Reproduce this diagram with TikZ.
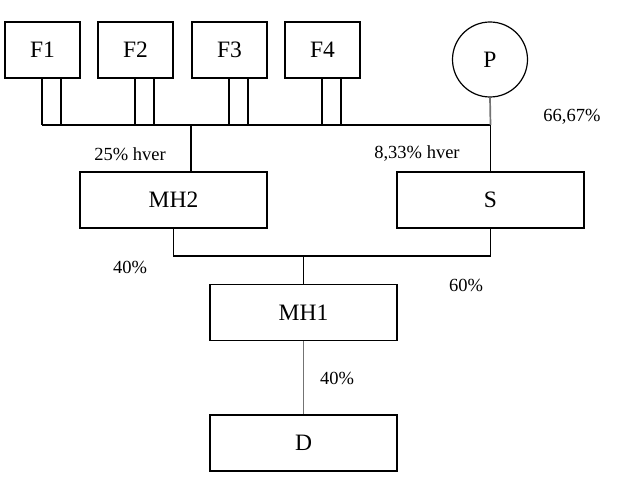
\documentclass[tikz,border=0pt]{standalone}
\usepackage{fontspec}
\setmainfont{Liberation Serif}
\begin{document}
\begin{tikzpicture}[x=1pt,y=-1pt,
  box/.style={draw,line width=1.4pt,minimum width=187pt,minimum height=56pt,inner sep=0pt,font=\fontsize{23.5}{27}\selectfont},
  fbox/.style={box,minimum width=75pt},
  lbl/.style={font=\fontsize{18.5}{22}\selectfont,inner sep=0pt},
  ln/.style={line width=1.4pt},
  gln/.style={line width=1.7pt,draw=black!55}]
\useasboundingbox (0,0) rectangle (630,481);
\node[fbox] (F1) at (42.5,50) {F1};
\node[fbox] (F2) at (135.5,50) {F2};
\node[fbox] (F3) at (229.5,50) {F3};
\node[fbox] (F4) at (322.5,50) {F4};
\node[draw,circle,line width=1.2pt,minimum size=75pt,inner sep=0pt,font=\fontsize{23.5}{27}\selectfont] (P) at (490,59.5) {P};
\node[box] (MH2) at (173.5,200) {MH2};
\node[box] (S) at (490.5,200) {S};
\node[box] (MH1) at (303.5,312.5) {MH1};
\node[box] (D) at (303.5,443) {D};
\coordinate (bus) at (0,125);
\coordinate (jM) at (191,125);
\coordinate (jP) at (490.5,125);
\coordinate (jB) at (303.5,256);
\foreach \f in {F1,F2,F3,F4}{
  \draw[ln] ([xshift=-0.5pt]\f.south) -- ([xshift=-0.5pt]\f.south |- bus);
  \draw[ln] ([xshift=18.5pt]\f.south) -- ([xshift=18.5pt]\f.south |- bus);
}
\draw[ln] ([xshift=-0.5pt]F1.south |- bus) -- (jP);
\draw[line width=2.4pt] (jM) -- (jM |- MH2.north);
\draw[gln] (P.south) -- (jP);
\draw[ln] (jP) -- (S.north);
\draw[ln] (MH2.south) |- (jB) -| (S.south);
\draw[ln] (jB) -- (MH1.north);
\draw[gln] (MH1.south) -- (D.north);
\node[lbl] (l1) at (130,154) {25\% hver};
\node[lbl] (l2) at (417,154) {8,33\% hver};
\node[lbl] (l3) at (572,117) {66,67\%};
\node[lbl] (l4) at (130,267) {40\%};
\node[lbl] (l5) at (466,285) {60\%};
\node[lbl] (l6) at (337,378) {40\%};
\end{tikzpicture}
\end{document}
